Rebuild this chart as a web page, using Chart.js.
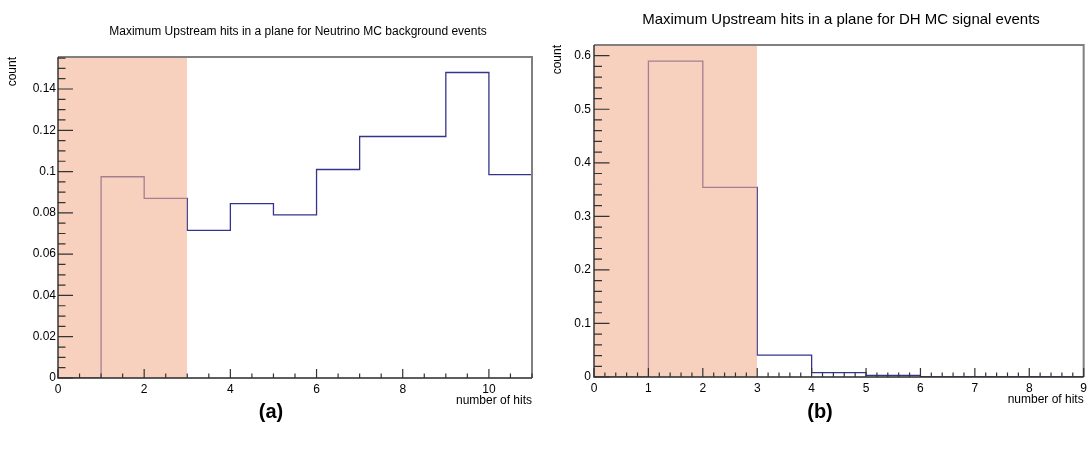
<!DOCTYPE html>
<html><head><meta charset="utf-8">
<script src="https://cdn.jsdelivr.net/npm/chart.js@4.4.1/dist/chart.umd.min.js"></script>
<style>
html,body{margin:0;padding:0;background:#fff;}
body{width:1091px;height:452px;position:relative;overflow:hidden;font-family:"Liberation Sans",Arial,Helvetica,sans-serif;}
canvas{position:absolute;top:0;}
.t{position:absolute;white-space:nowrap;color:#000;transform:translate(-50%,-50%);line-height:1;}
</style></head><body>
<canvas id="ca" width="545" height="452" style="left:0"></canvas>
<canvas id="cb" width="546" height="452" style="left:545px"></canvas>
<div class="t" style="left:298px;top:31px;font-size:12px">Maximum Upstream hits in a plane for Neutrino MC background events</div>
<div class="t" style="left:841px;top:18px;font-size:15px">Maximum Upstream hits in a plane for DH MC signal events</div>
<div class="t" style="left:271px;top:411px;font-size:20px;font-weight:bold">(a)</div>
<div class="t" style="left:820px;top:411px;font-size:20px;font-weight:bold">(b)</div>
<script>
// ---------- data: panel (a) Neutrino MC background ----------
const binEdgesA = [0,1,2,3,4,5,6,7,8,9,10,11];
const countsA   = [0,0.0975,0.087,0.0715,0.0845,0.079,0.101,0.117,0.117,0.148,0.0985];
const xTicksA   = [0,2,4,6,8,10];
const xTickLabelsA = ['0','2','4','6','8','10'];
const yTicksA   = [0,0.02,0.04,0.06,0.08,0.1,0.12,0.14];
const yTickLabelsA = ['0','0.02','0.04','0.06','0.08','0.1','0.12','0.14'];
const yMaxA = 0.1555;
const cutRangeA = [0,3];

// ---------- data: panel (b) DH MC signal ----------
const binEdgesB = [0,1,2,3,4,5,6,7,8,9];
const countsB   = [0,0.59,0.354,0.041,0.008,0.003,0,0,0];
const xTicksB   = [0,1,2,3,4,5,6,7,8,9];
const xTickLabelsB = ['0','1','2','3','4','5','6','7','8','9'];
const yTicksB   = [0,0.1,0.2,0.3,0.4,0.5,0.6];
const yTickLabelsB = ['0','0.1','0.2','0.3','0.4','0.5','0.6'];
const yMaxB = 0.62;
const cutRangeB = [0,3];

Chart.defaults.font.family = '"Liberation Sans", Arial, Helvetica, sans-serif';
Chart.defaults.color = '#000';

function histPoints(edges, counts){
  const pts = counts.map((c,i)=>({x:edges[i], y:c}));
  pts.push({x:edges[edges.length-1], y:counts[counts.length-1]});
  return pts;
}

function rootAxes(o){
  return {
    id:'rootAxes',
    afterDraw(chart){
      const {ctx, chartArea:a, scales:{x,y}} = chart;
      ctx.save();
      ctx.lineCap='butt';
      ctx.strokeStyle='#808080'; ctx.lineWidth=2;
      ctx.beginPath(); ctx.moveTo(a.left,a.top); ctx.lineTo(a.right,a.top); ctx.lineTo(a.right,a.bottom); ctx.stroke();
      ctx.strokeStyle='#2a2a2a'; ctx.lineWidth=1.4;
      ctx.beginPath(); ctx.moveTo(a.left,a.top); ctx.lineTo(a.left,a.bottom); ctx.lineTo(a.right,a.bottom); ctx.stroke();
      ctx.lineWidth=1.2; ctx.strokeStyle='#333';
      ctx.beginPath();
      const nx = Math.round((x.max-x.min)/o.xMinor);
      for(let i=0;i<=nx;i++){
        const v = x.min + i*o.xMinor;
        const major = Math.abs(v/o.xMajor - Math.round(v/o.xMajor))<1e-6;
        const px = x.getPixelForValue(v);
        const len = major? o.xMajLen : o.xMinLen;
        ctx.moveTo(px,a.bottom); ctx.lineTo(px,a.bottom-len);
      }
      const ny = Math.floor((y.max-y.min)/o.yMinor+1e-6);
      for(let i=0;i<=ny;i++){
        const v = y.min + i*o.yMinor;
        const major = Math.abs(v/o.yMajor - Math.round(v/o.yMajor))<1e-6;
        const py = y.getPixelForValue(v);
        if(py < a.top+1) continue;
        const len = major? o.yMajLen : o.yMinLen;
        ctx.moveTo(a.left,py); ctx.lineTo(a.left+len,py);
      }
      ctx.stroke();
      ctx.restore();
    }
  };
}

function makeChart(id, edges, counts, cut, yMax, xT, xL, yT, yL, yW, pad, tickOpts, xPad, yPad){
  return new Chart(document.getElementById(id), {
    type:'line',
    data:{datasets:[
      {
        label:'cut', data:[{x:cut[0],y:yMax},{x:cut[1],y:yMax}],
        fill:'origin', backgroundColor:'rgba(242,178,146,0.6)', borderWidth:0,
        pointRadius:0, tension:0
      },
      {
        label:'hits', data:histPoints(edges,counts), stepped:true,
        borderColor:'#34348f', borderWidth:1.3, fill:false, pointRadius:0
      }
    ]},
    options:{
      responsive:false, animation:false,
      layout:{padding:pad},
      plugins:{legend:{display:false}, tooltip:{enabled:false}, title:{display:false}},
      scales:{
        x:{
          type:'linear', min:edges[0], max:edges[edges.length-1],
          afterBuildTicks:s=>{s.ticks = xT.map(v=>({value:v}));},
          afterFit:s=>{s.height=32;},
          grid:{display:false, drawTicks:false}, border:{display:false},
          ticks:{autoSkip:false, maxRotation:0, padding:xPad, font:{size:12}, color:'#000',
                 callback:(v,i)=>xL[i]},
          title:{display:true, text:'number of hits', align:'end', font:{size:12}, color:'#000', padding:{top:0,bottom:2}}
        },
        y:{
          type:'linear', min:0, max:yMax,
          afterBuildTicks:s=>{s.ticks = yT.map(v=>({value:v}));},
          afterFit:s=>{s.width=yW;},
          grid:{display:false, drawTicks:false}, border:{display:false},
          ticks:{autoSkip:false, padding:yPad, font:{size:12}, color:'#000',
                 callback:(v,i)=>yL[i]},
          title:{display:true, text:'count', align:'end', font:{size:12}, color:'#000', padding:{top:5,bottom:0}}
        }
      }
    },
    plugins:[rootAxes(tickOpts)]
  });
}

makeChart('ca', binEdgesA, countsA, cutRangeA, yMaxA, xTicksA, xTickLabelsA, yTicksA, yTickLabelsA, 58,
  {left:0, right:13, top:57, bottom:42},
  {xMinor:0.5, xMajor:2, xMajLen:9, xMinLen:4.5, yMinor:0.005, yMajor:0.02, yMajLen:15, yMinLen:7.5}, 4, 2);

makeChart('cb', binEdgesB, countsB, cutRangeB, yMaxB, xTicksB, xTickLabelsB, yTicksB, yTickLabelsB, 49,
  {left:0, right:6.5, top:45, bottom:43},
  {xMinor:0.2, xMajor:1, xMajLen:9, xMinLen:4.5, yMinor:0.02, yMajor:0.1, yMajLen:15.5, yMinLen:8}, 4, 3);
</script>
</body></html>
